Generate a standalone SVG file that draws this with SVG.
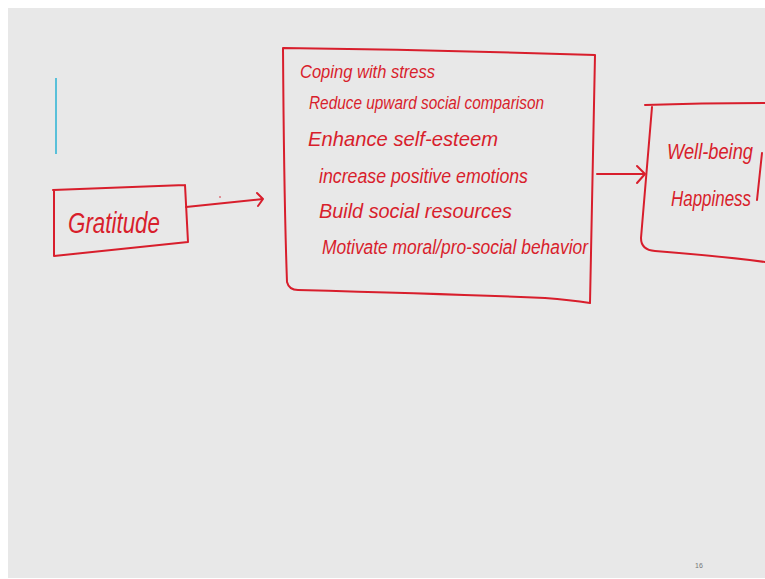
<svg xmlns="http://www.w3.org/2000/svg" width="765" height="579" viewBox="0 0 765 579">
<style>
.ink{fill:none;stroke:#d81e2c;stroke-width:2;stroke-linecap:round;stroke-linejoin:round}
.hw{font-family:"Liberation Sans","DejaVu Sans",sans-serif;font-style:italic;fill:#d81e2c}
.pg{font-family:"Liberation Sans",sans-serif;fill:#777;font-size:7px}
</style>
<rect x="0" y="0" width="765" height="579" fill="#ffffff"/>
<rect x="8" y="8" width="757" height="570" fill="#e8e8e8"/>
<line x1="56" y1="78" x2="56" y2="154" stroke="#2ab3d4" stroke-width="1.5"/>
<g id="gratitude">
<path class="ink" d="M53,190 L185,185 M185,185 L188,242 M54,191 L54,256 M54,256 L188,242"/>
<text class="hw" x="68" y="233" font-size="30" textLength="92" lengthAdjust="spacingAndGlyphs">Gratitude</text>
</g>
<g id="mechanisms">
<path class="ink" d="M283,48 Q440,50 595,55 M595,55 Q592,180 590,303 M283,48 Q284,200 287,282 Q289,290 298,290 Q450,294 545,298 Q570,300 590,303"/>
<text class="hw" x="300" y="78" font-size="19" textLength="135" lengthAdjust="spacingAndGlyphs">Coping with stress</text>
<text class="hw" x="309" y="109" font-size="19" textLength="235" lengthAdjust="spacingAndGlyphs">Reduce upward social comparison</text>
<text class="hw" x="308" y="146" font-size="21" textLength="190" lengthAdjust="spacingAndGlyphs">Enhance self-esteem</text>
<text class="hw" x="319" y="183" font-size="20" textLength="209" lengthAdjust="spacingAndGlyphs">increase positive emotions</text>
<text class="hw" x="319" y="218" font-size="21" textLength="193" lengthAdjust="spacingAndGlyphs">Build social resources</text>
<text class="hw" x="322" y="254" font-size="20" textLength="266" lengthAdjust="spacingAndGlyphs">Motivate moral/pro-social behavior</text>
</g>
<g id="wellbeing">
<path class="ink" d="M645,105 Q700,103 765,103 M652,107 Q646,180 641,238 Q641,250 655,251 Q720,256 765,262"/>
<text class="hw" x="667" y="159" font-size="22" textLength="86" lengthAdjust="spacingAndGlyphs">Well-being</text>
<text class="hw" x="671" y="206" font-size="22" textLength="80" lengthAdjust="spacingAndGlyphs">Happiness</text>
<path class="ink" d="M762,153 L757,200"/>
</g>
<g id="connectors">
<path class="ink" d="M186,207 Q225,203 263,199 M257,193 L263,199 L258,206"/>
<circle cx="220" cy="197" r="0.8" fill="#d81e2c"/>
<path class="ink" d="M597,174 L645,174 M637,166 L645,174 L637,183"/>
</g>
<text class="pg" x="695" y="568">16</text>
</svg>
